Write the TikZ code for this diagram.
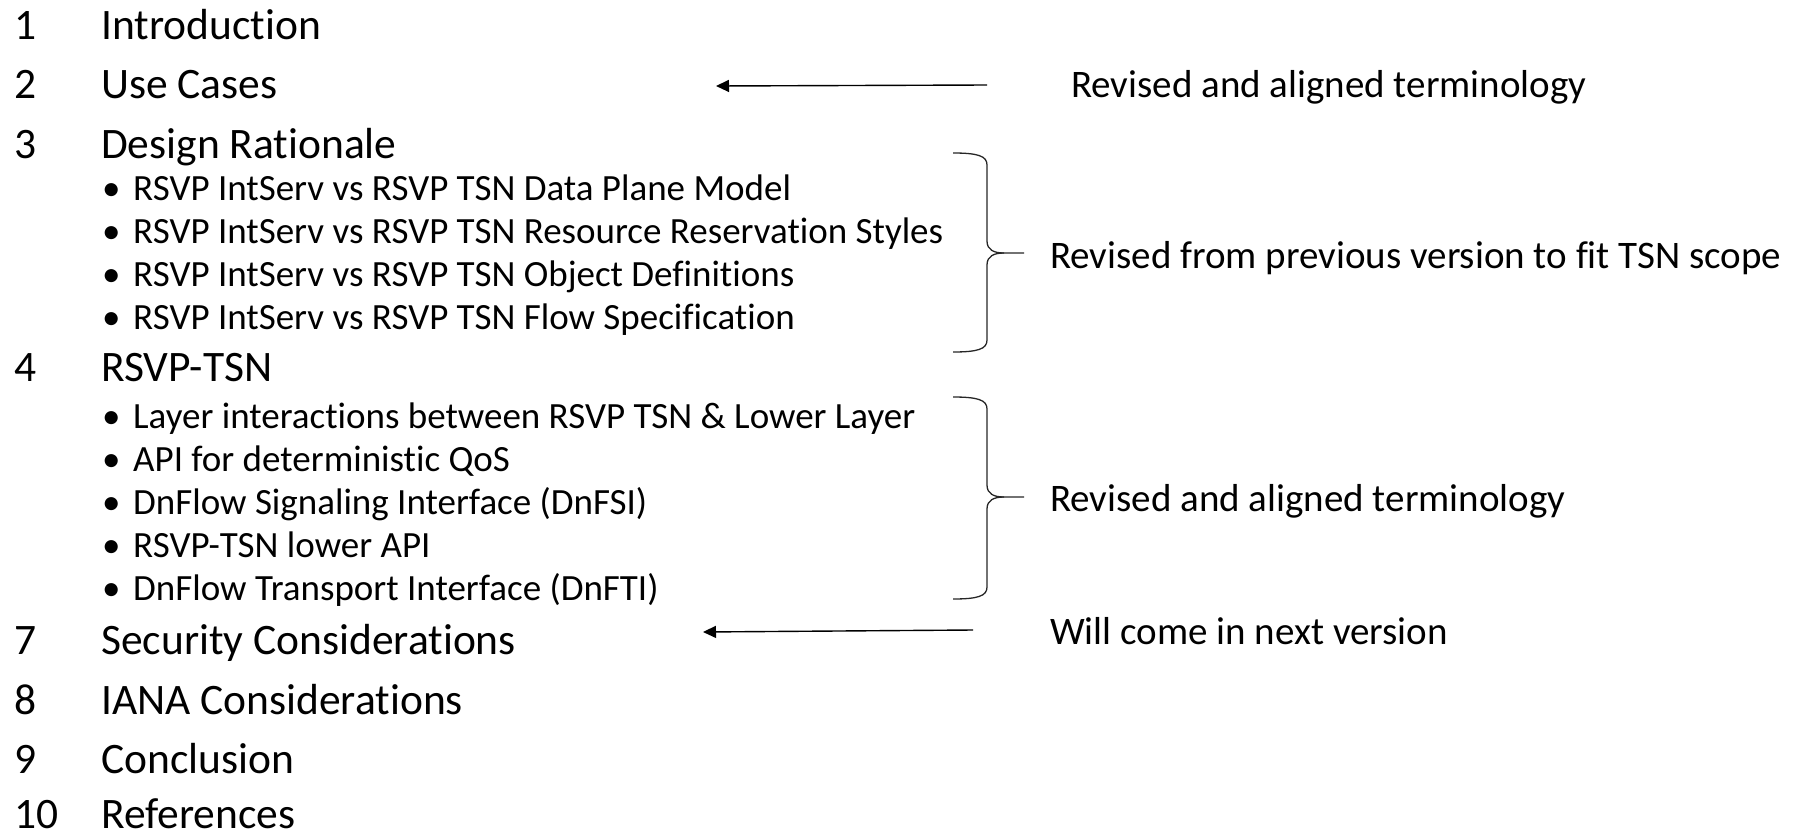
\documentclass[tikz,border=0pt]{standalone}
\usepackage{fontspec}
\setmainfont{Carlito}[Ligatures={NoCommon}]
\usetikzlibrary{arrows.meta}

\begin{document}
\begin{tikzpicture}[
   x=1pt, y=-1pt,
   numtext/.style={anchor=base west, inner sep=0, font=\fontsize{43.5}{52}\selectfont},
   headtext/.style={anchor=base west, inner sep=0, font=\fontsize{43.5}{52}\selectfont},
   subtext/.style={anchor=base west, inner sep=0, font=\fontsize{37}{44}\selectfont},
   notetext/.style={anchor=base west, inner sep=0, font=\fontsize{39}{46}\selectfont},
   notearrow/.style={-{Triangle[length=13pt, width=12pt]}, line width=1.4pt},
   bracket/.style={draw=black!85, line width=1.3pt}
  ]

  \useasboundingbox (0, 0) rectangle (1809, 835);

  % Sections
  \foreach \n/\name/\y in {1/Introduction/39, 2/Use Cases/98.5, 3/Design Rationale/158,
                           4/RSVP-TSN/381, 7/Security Considerations/654,
                           8/IANA Considerations/714, 9/Conclusion/773, 10/References/828} {
    \node (num\n) at (14, \y) [numtext] {\n};
    \node (sec\n) at (101, \y) [headtext] {\name};
  }

  % Sub items
  \foreach \k/\txt/\y in {1/RSVP IntServ vs RSVP TSN Data Plane Model/200,
                          2/RSVP IntServ vs RSVP TSN Resource Reservation Styles/243,
                          3/RSVP IntServ vs RSVP TSN Object Definitions/286,
                          4/RSVP IntServ vs RSVP TSN Flow Specification/329,
                          5/Layer interactions between RSVP TSN \& Lower Layer/428,
                          6/API for deterministic QoS/471,
                          7/DnFlow Signaling Interface (DnFSI)/514,
                          8/RSVP-TSN lower API/557,
                          9/DnFlow Transport Interface (DnFTI)/600} {
    \node (dot\k) at (102, \y) [subtext] {\textbullet};
    \node (sub\k) at (133, \y) [subtext] {\txt};
  }

  % Notes
  \node (note2) at (1071, 97) [notetext] {Revised and aligned terminology};
  \node (note3) at (1050, 268) [notetext] {Revised from previous version to fit TSN scope};
  \node (note4) at (1050, 511) [notetext] {Revised and aligned terminology};
  \node (note7) at (1050, 644) [notetext] {Will come in next version};

  \coordinate (from2) at (987, 85);
  \coordinate (to2) at (716, 86);
  \coordinate (from7) at (973, 630);
  \coordinate (to7) at (703, 632);

  \foreach \B/\E in {from2/to2, from7/to7} {
    \draw[notearrow] (\B) -- (\E);
  }

  % Braces
  \foreach \t/\m/\b in {153/253/352, 397/497/599} {
    \draw[bracket] (953, \t) .. controls (978, \t) and (987, {\t+3}) .. (987, {\t+12})
      -- (987, {\m-12}) .. controls (987, {\m-3}) and (994, \m) .. (1004, \m) -- (1024, \m);
    \draw[bracket] (1004, \m) .. controls (994, \m) and (987, {\m+3}) .. (987, {\m+12})
      -- (987, {\b-12}) .. controls (987, {\b-3}) and (978, \b) .. (953, \b);
  }

\end{tikzpicture}
\end{document}
